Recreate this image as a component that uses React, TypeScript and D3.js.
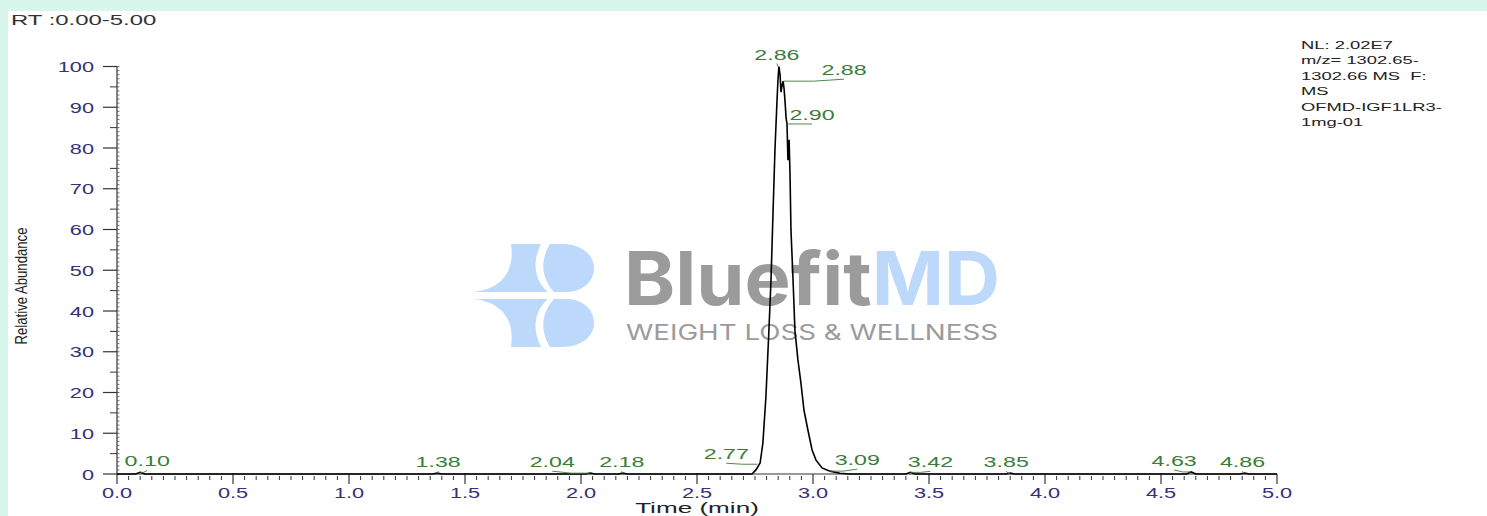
import * as d3 from "d3";

// chromatogram trace (time in min, relative abundance in %)
const times = [
  0, 0.08, 0.1, 0.12, 1.36, 1.38, 1.4, 2.02, 2.04, 2.06, 2.16, 2.18, 2.2, 2.7,
  2.737, 2.754, 2.772, 2.784, 2.797, 2.81, 2.819, 2.828, 2.836, 2.845, 2.849,
  2.853, 2.858, 2.862, 2.866, 2.871, 2.875, 2.879, 2.884, 2.888, 2.892, 2.897,
  2.901, 2.905, 2.914, 2.922, 2.935, 2.948, 2.961, 2.978, 2.996, 3.013, 3.039,
  3.073, 3.116, 3.16, 3.4, 3.42, 3.44, 3.83, 3.85, 3.87, 4.61, 4.63, 4.65, 4.84,
  4.86, 4.88, 5.0,
];
const abundance = [
  0, 0, 0.4, 0, 0, 0.2, 0, 0, 0.2, 0, 0, 0.2, 0, 0,
  0, 1.0, 2.7, 7.6, 18.9, 35.3, 47.6, 64.8, 79.5, 91.8, 96.7,
  100, 98, 93.7, 95.2, 96.4, 94.7, 91.8, 87.4, 85.9, 77, 82,
  73.4, 59.9, 47.6, 35.3, 28, 22.3, 15.7, 10.8, 5.9, 3.4, 1.5,
  0.7, 0.2, 0, 0, 0.4, 0, 0, 0.2, 0, 0, 0.5, 0, 0,
  0.2, 0, 0,
];

// labelled peaks
const peakLabels = ["0.10", "1.38", "2.04", "2.18", "2.77", "2.86", "2.88", "2.90", "3.09", "3.42", "3.85", "4.63", "4.86"];
const peakTimes = [0.1, 1.38, 2.04, 2.18, 2.76, 2.853, 2.871, 2.888, 3.07, 3.42, 3.85, 4.63, 4.86];
const peakValues = [0.4, 0.2, 0.2, 0.2, 2.4, 100, 96.4, 85.9, 0.7, 0.4, 0.2, 0.5, 0.2];
// label offsets in px from the apex (dx to label centre, dy to baseline)
const labelDx = [7, 1, -38, -1, -31, -2, 61, 25, 28, 20, -4, -17, -2];
const labelDy = [-6, -6, -6, -6, -5, -7, -6, -4, -6, -5, -6, -6, -6];

const yTicks = [0, 10, 20, 30, 40, 50, 60, 70, 80, 90, 100];
const xTicks = [0, 0.5, 1, 1.5, 2, 2.5, 3, 3.5, 4, 4.5, 5];

const infoLines = ["NL: 2.02E7", "m/z= 1302.65-", "1302.66 MS\u00a0\u00a0F:", "MS", "OFMD-IGF1LR3-", "1mg-01"];

const W = 1487;
const H = 516;
const FONT = "'Liberation Sans', Arial, sans-serif";

const SText = ({ x, y, sx = 1.5, anchor = "start", size = 15, fill = "#333", children }: any) => (
  <text
    transform={`translate(${x},${y}) scale(${sx},1)`}
    textAnchor={anchor}
    fontSize={size}
    fontFamily={FONT}
    fill={fill}
  >
    {children}
  </text>
);

const App = () => {
  const x = d3.scaleLinear().domain([0, 5]).range([117, 1277]);
  const y = d3.scaleLinear().domain([0, 100]).range([474, 66.5]);

  const pts: [number, number][] = times.map((t, i) => [t, abundance[i]]);
  const line = d3
    .line<[number, number]>()
    .x((d) => x(d[0]))
    .y((d) => y(d[1]));

  const minorX = d3.range(0, 5.0001, 0.05).filter((v) => Math.abs(v * 2 - Math.round(v * 2)) > 1e-6);
  const midY = d3.range(5, 100, 10);
  const minorY = d3.range(0, 101, 1);

  return (
    <svg
      width={W}
      height={H}
      viewBox={`0 0 ${W} ${H}`}
      style={{ position: "absolute", left: 0, top: 0, display: "block" }}
    >
      <rect width={W} height={H} fill="#d7f7ec" />
      <rect x={8} y={11} width={W - 8} height={H - 11} fill="#fff" />

      {/* watermark */}
      <g>
        <path d="M473 292 C503 289 515 270 511 244 L541 244 C532 262 534 280 548 292 Z" fill="#bcd8fb" />
        <path
          d="M550 244 L562 244 C583 244 594 256 594 268 C594 282 582 292 566 292 L554 292 C541 278 540 260 550 244 Z"
          fill="#bcd8fb"
        />
        <path d="M473 299 C503 302 515 321 511 347 L541 347 C532 329 534 311 548 299 Z" fill="#bcd8fb" />
        <path
          d="M550 347 L562 347 C583 347 594 335 594 323 C594 309 582 299 566 299 L554 299 C541 313 540 331 550 347 Z"
          fill="#bcd8fb"
        />
        <text
          x={624}
          y={305}
          fontSize={74}
          fontWeight={700}
          fontFamily="Inter, 'Noto Sans', sans-serif"
          textLength={376}
          lengthAdjust="spacingAndGlyphs"
        >
          <tspan fill="#9b9b9b">Bluefit</tspan>
          <tspan fill="#bcd8fb">MD</tspan>
        </text>
        <text
          x={626}
          y={340}
          fontSize={21}
          fontFamily="Inter, 'Noto Sans', sans-serif"
          fill="#9b9b9b"
          textLength={372}
          lengthAdjust="spacingAndGlyphs"
        >
          WEIGHT LOSS &amp; WELLNESS
        </text>
      </g>

      <SText x={11} y={25} size={14.5} sx={1.65}>
        RT :0.00-5.00
      </SText>

      {infoLines.map((l, i) => (
        <SText key={i} x={1301} y={49 + i * 15.4} size={10.5} sx={1.75} fill="#222">
          {l}
        </SText>
      ))}

      {/* y axis */}
      <line x1={117} x2={117} y1={y(0)} y2={y(100)} stroke="#333" strokeWidth={1.2} />
      {minorY.map((v) => (
        <line key={"my" + v} x1={117} x2={119.5} y1={y(v)} y2={y(v)} stroke="#555" strokeWidth={0.8} />
      ))}
      {midY.map((v) => (
        <line key={"dy" + v} x1={110} x2={117} y1={y(v)} y2={y(v)} stroke="#333" strokeWidth={1} />
      ))}
      {yTicks.map((v) => (
        <g key={"y" + v}>
          <line x1={103} x2={117} y1={y(v)} y2={y(v)} stroke="#333" strokeWidth={1.2} />
          <SText x={94} y={y(v) + 5.5} anchor="end" sx={1.45} fill="#34317a">
            {v}
          </SText>
        </g>
      ))}
      <text
        transform={`translate(27,${286}) rotate(-90) scale(1,1.2)`}
        textAnchor="middle"
        fontSize={14}
        fontFamily={FONT}
        fill="#222"
        textLength={117}
        lengthAdjust="spacingAndGlyphs"
      >
        Relative Abundance
      </text>

      {/* x axis */}
      <line x1={x(0)} x2={x(5)} y1={474} y2={474} stroke="#333" strokeWidth={1.2} />
      {minorX.map((v) => (
        <line key={"mx" + v} x1={x(v)} x2={x(v)} y1={476} y2={480} stroke="#333" strokeWidth={1} />
      ))}
      {xTicks.map((v) => (
        <g key={"x" + v}>
          <line x1={x(v)} x2={x(v)} y1={474} y2={484} stroke="#333" strokeWidth={1.2} />
          <SText x={x(v)} y={498} anchor="middle" sx={1.45} fill="#34317a">
            {v.toFixed(1)}
          </SText>
        </g>
      ))}
      <SText x={697} y={513} anchor="middle" size={14.5} sx={1.8} fill="#222">
        Time (min)
      </SText>

      {/* trace */}
      <path d={line(pts) ?? ""} fill="none" stroke="#000" strokeWidth={1.6} strokeLinejoin="miter" />

      {/* peak labels with leaders */}
      {peakLabels.map((lab, i) => {
        const ax = x(peakTimes[i]);
        const ay = y(peakValues[i]);
        const lx = ax + labelDx[i];
        const ly = ay + labelDy[i];
        const mx = (ax + lx) / 2;
        return (
          <g key={"p" + i}>
            <path
              d={`M${ax},${ay} L${mx},${ay} L${lx},${ly + 4}`}
              fill="none"
              stroke="#3a7a3a"
              strokeWidth={0.9}
            />
            <SText x={lx} y={ly} anchor="middle" sx={1.55} fill="#3a7d3a">
              {lab}
            </SText>
          </g>
        );
      })}
    </svg>
  );
};

export default App;
